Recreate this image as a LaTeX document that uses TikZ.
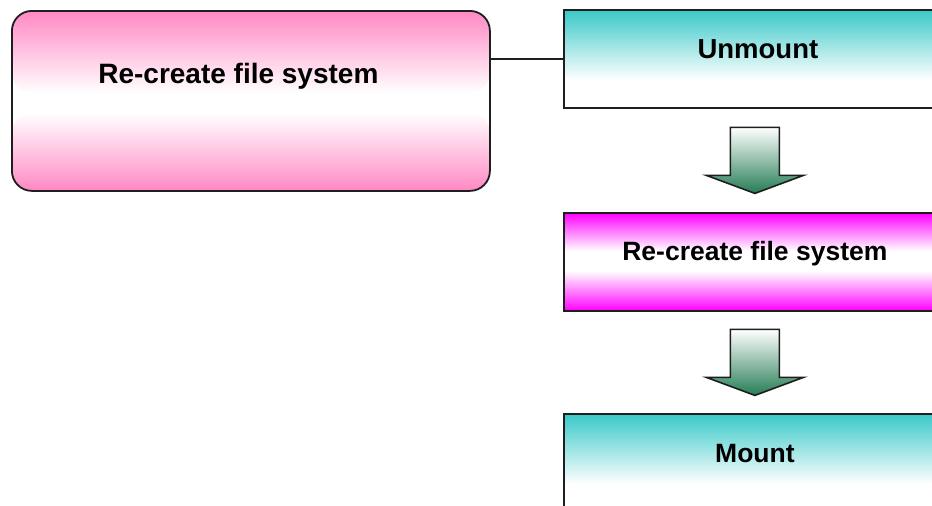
\documentclass[tikz,border=0pt]{standalone}
\usepackage{fontspec}
\setmainfont{Liberation Sans}
\usetikzlibrary{calc}
\definecolor{tealc}{RGB}{58,200,200}
\definecolor{magc}{RGB}{255,0,255}
\definecolor{pinkc}{RGB}{255,136,196}
\definecolor{greenc}{RGB}{36,124,84}
\definecolor{edgec}{RGB}{30,30,30}
\begin{document}
\begin{tikzpicture}[x=1pt,y=-1pt,
  boxline/.style={draw=edgec, line width=1.8pt},
  stepbox/.style={boxline, rectangle, minimum width=382pt, minimum height=98pt, inner sep=0pt, anchor=north west},
  tealbox/.style={stepbox, path picture={
     \fill[white] (path picture bounding box.south west) rectangle (path picture bounding box.north east);
     \shade[top color=tealc, bottom color=white] (path picture bounding box.north west) rectangle ([yshift=-70pt]path picture bounding box.north east);
  }},
  magbox/.style={stepbox, path picture={
     \fill[white] (path picture bounding box.south west) rectangle (path picture bounding box.north east);
     \shade[top color=magc, bottom color=white] (path picture bounding box.north west) rectangle ([yshift=-38pt]path picture bounding box.north east);
     \shade[top color=white, bottom color=magc] ([yshift=40pt]path picture bounding box.south west) rectangle (path picture bounding box.south east);
  }},
  pinkbox/.style={boxline, rectangle, rounded corners=20pt, minimum width=478pt, minimum height=180pt, inner sep=0pt, anchor=north west, path picture={
     \fill[white] (path picture bounding box.south west) rectangle (path picture bounding box.north east);
     \shade[top color=pinkc, bottom color=white] (path picture bounding box.north west) rectangle ([yshift=-82pt]path picture bounding box.north east);
     \shade[top color=white, bottom color=pinkc] ([yshift=78pt]path picture bounding box.south west) rectangle (path picture bounding box.south east);
  }},
  lbl/.style={inner sep=0pt, anchor=base, font=\fontsize{26.5}{30}\selectfont\bfseries},
  connector/.style={draw=edgec, line width=1.5pt},
  blockarrow/.pic={
    \shade[top color=white, bottom color=greenc, draw=edgec, line width=1.6pt, line join=miter]
      (-24.5,-33) -- (24.5,-33) -- (24.5,15) -- (48.5,15) -- (0,33) -- (-48.5,15) -- (-24.5,15) -- cycle;
  }]
\useasboundingbox (0,0) rectangle (932,506);
\fill[white] (0,0) rectangle (932,506);
\begin{scope}
\clip (0,0) rectangle (932,506);
\node[pinkbox] (L) at (11,10) {};
\node[tealbox] (U) at (563,9) {};
\node[magbox] (R) at (563,212) {};
\node[tealbox] (M) at (563,413) {};

\node[lbl, font=\fontsize{28}{32}\selectfont\bfseries] (Lt) at ([xshift=-12.5pt,yshift=17pt]L.center) {Re-create file system};
\node[lbl, font=\fontsize{27.5}{32}\selectfont\bfseries] (Ut) at ([xshift=3pt]U.center) {Unmount};
\node[lbl] (Rt) at ([yshift=1pt]R.center) {Re-create file system};
\node[lbl] (Mt) at (M.center) {Mount};

\draw[connector] (U.west) -- (U.west -| L.east);

\path ($(U.south)!0.5!(R.north)$) pic {blockarrow};
\path ($(R.south)!0.5!(M.north)$) pic {blockarrow};
\end{scope}
\end{tikzpicture}
\end{document}
